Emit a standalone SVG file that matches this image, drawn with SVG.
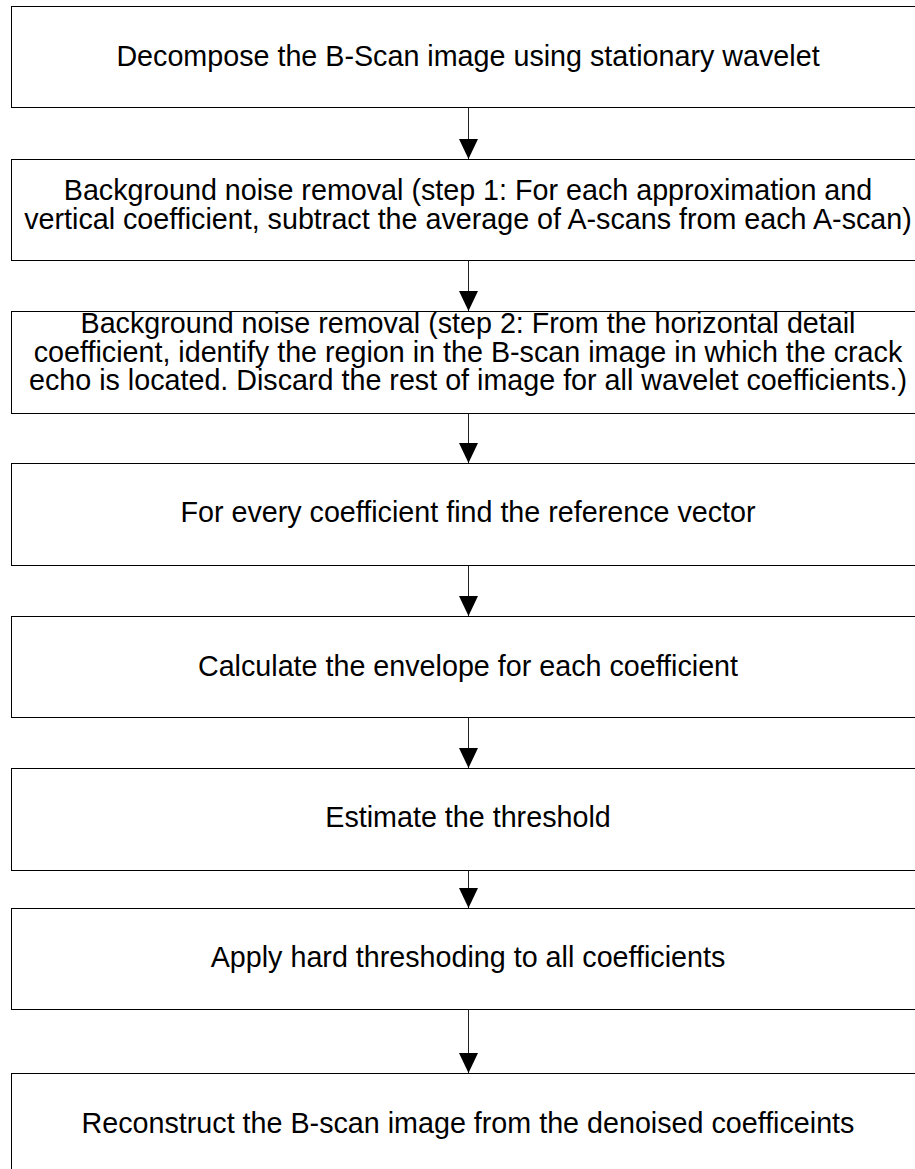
<svg xmlns="http://www.w3.org/2000/svg" width="915" height="1169" viewBox="0 0 915 1169">
<style>
.box{fill:#fff;stroke:#000;stroke-width:1}
.t{font-family:"Liberation Sans",Arial,sans-serif;font-size:28.7px;fill:#000;text-anchor:middle}
.c{stroke:#222;stroke-width:1;fill:none;marker-end:url(#ah)}
</style>
<defs>
<marker id="ah" viewBox="0 0 20 19" refX="20" refY="9.5" markerWidth="20" markerHeight="19" markerUnits="userSpaceOnUse" orient="auto">
<path d="M0,0 L20,9.5 L0,19 Z" fill="#000"/>
</marker>
</defs>
<rect width="915" height="1169" fill="#fff"/>
<g id="n1"><rect class="box" x="11.5" y="6.5" width="913" height="101"/>
<text class="t" x="468" y="66">Decompose the B-Scan image using stationary wavelet</text></g>
<g id="n2"><rect class="box" x="11.5" y="159.5" width="913" height="101"/>
<text class="t" x="468" y="200">Background noise removal (step 1: For each approximation and</text>
<text class="t" x="468" y="229">vertical coefficient, subtract the average of A-scans from each A-scan)</text></g>
<g id="n3"><rect class="box" x="11.5" y="311.5" width="913" height="102"/>
<text class="t" x="468" y="333">Background noise removal (step 2: From the horizontal detail</text>
<text class="t" x="468" y="361.5">coefficient, identify the region in the B-scan image in which the crack</text>
<text class="t" x="468" y="390">echo is located. Discard the rest of image for all wavelet coefficients.)</text></g>
<g id="n4"><rect class="box" x="11.5" y="463.5" width="913" height="102"/>
<text class="t" x="468" y="522">For every coefficient find the reference vector</text></g>
<g id="n5"><rect class="box" x="11.5" y="616.5" width="913" height="101"/>
<text class="t" x="468" y="675.5">Calculate the envelope for each coefficient</text></g>
<g id="n6"><rect class="box" x="11.5" y="768.5" width="913" height="102"/>
<text class="t" x="468" y="827">Estimate the threshold</text></g>
<g id="n7"><rect class="box" x="11.5" y="908.5" width="913" height="101"/>
<text class="t" x="468" y="967">Apply hard threshoding to all coefficients</text></g>
<g id="n8"><rect class="box" x="11.5" y="1073.5" width="913" height="120"/>
<text class="t" x="468" y="1133">Reconstruct the B-scan image from the denoised coefficeints</text></g>
<g id="connectors">
<line class="c" x1="468.5" y1="107.5" x2="468.5" y2="159"/>
<line class="c" x1="468.5" y1="260.5" x2="468.5" y2="311"/>
<line class="c" x1="468.5" y1="413.5" x2="468.5" y2="463"/>
<line class="c" x1="468.5" y1="565.5" x2="468.5" y2="616"/>
<line class="c" x1="468.5" y1="717.5" x2="468.5" y2="768"/>
<line class="c" x1="468.5" y1="870.5" x2="468.5" y2="908"/>
<line class="c" x1="468.5" y1="1009.5" x2="468.5" y2="1073"/>
</g>
</svg>
